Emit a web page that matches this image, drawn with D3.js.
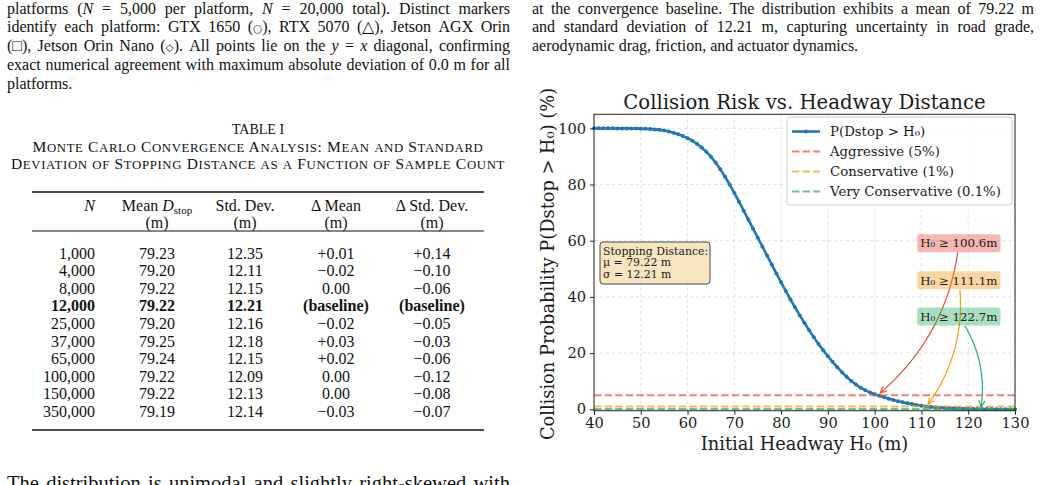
<!DOCTYPE html>
<html>
<head>
<meta charset="utf-8">
<title>Collision Risk vs. Headway Distance</title>
<script src="https://cdn.jsdelivr.net/npm/d3@7"></script>
<style>
  body { margin: 0; background: #fff; }
  svg { display: block; }
  .serif { font-family: 'Liberation Serif', 'Times New Roman', serif; fill: #111; }
  .fig { font-family: 'DejaVu Serif', serif; fill: #1a1a1a; }
</style>
</head>
<body>
<svg id="page" width="1041" height="485"></svg>
<script>
// ---- chart data ----
var headway = [40,41,42,43,44,45,46,47,48,49,50,51,52,53,54,55,56,57,58,59,
  60,61,62,63,64,65,66,67,68,69,70,71,72,73,74,75,76,77,78,79,
  80,81,82,83,84,85,86,87,88,89,90,91,92,93,94,95,96,97,98,99,
  100,101,102,103,104,105,106,107,108,109,110,111,112,113,114,115,116,117,118,119,
  120,121,122,123,124,125,126,127,128,129,130];
var riskPct = [100,100,100,100,100,99.99,99.985,99.975,99.96,99.935,
  99.9,99.84,99.75,99.63,99.46,99.24,98.9,98.45,97.9,97.25,
  96.5,95.6,94.5,93.2,91.7,89.9,87.8,85.4,82.8,80.0,
  77.0,73.9,70.7,67.5,64.3,61.1,57.9,54.7,51.5,48.3,
  45.2,42.1,39.1,36.2,33.4,30.7,28.1,25.6,23.2,21.0,
  18.9,16.9,15.0,13.2,11.6,10.1,8.8,7.7,6.75,6.0,
  5.35,4.78,4.25,3.75,3.3,2.88,2.5,2.15,1.85,1.55,
  1.28,1.03,0.85,0.71,0.59,0.49,0.41,0.34,0.28,0.23,
  0.19,0.155,0.125,0.098,0.078,0.062,0.05,0.04,0.032,0.026,0.021];
var thresholdPct = [5, 1, 0.1];
var thresholdName = ['Aggressive (5%)', 'Conservative (1%)', 'Very Conservative (0.1%)'];
var thresholdH = [100.6, 111.1, 122.7];
var xTicks = [40,50,60,70,80,90,100,110,120,130];
var yTicks = [0,20,40,60,80,100];
var meanStop = 79.22, sdStop = 12.21;

// ---- table data ----
var sampleN = ['1,000','4,000','8,000','12,000','25,000','37,000','65,000','100,000','150,000','350,000'];
var meanD = ['79.23','79.20','79.22','79.22','79.20','79.25','79.24','79.22','79.22','79.19'];
var stdD = ['12.35','12.11','12.15','12.21','12.16','12.18','12.15','12.09','12.13','12.14'];
var dMean = ['+0.01','\u22120.02','0.00','(baseline)','\u22120.02','+0.03','+0.02','0.00','0.00','\u22120.03'];
var dStd = ['+0.14','\u22120.10','\u22120.06','(baseline)','\u22120.05','\u22120.03','\u22120.06','\u22120.12','\u22120.08','\u22120.07'];
var baselineRow = 3;

var thrColor = ['#e74c3c', '#f39c12', '#27ae60'];
var blue = '#1f77b4';

var svg = d3.select('#page');

// ---------- body text helpers ----------
// _x_ = italic, ^x^ = smaller symbol glyph
function rich(t, str) {
  var re = /(_[^_]+_|\^[^^]+\^)/;
  str.split(re).forEach(function(part) {
    if (part === '') return;
    if (part.charAt(0) === '_') t.append('tspan').attr('font-style', 'italic').text(part.slice(1, -1));
    else if (part.charAt(0) === '^') t.append('tspan').attr('font-family', 'DejaVu Sans').attr('font-size', '0.66em').text(part.slice(1, -1));
    else t.append('tspan').text(part);
  });
}

function para(lines, x0, x1, y0, lh, size) {
  lines.forEach(function(ln, i) {
    var last = ln.charAt(0) === '~';
    if (last) ln = ln.slice(1);
    var words = ln.split(' ');
    var nodes = words.map(function(w) {
      var t = svg.append('text').attr('class', 'serif').attr('font-size', size).attr('y', y0 + i * lh);
      rich(t, w);
      return t;
    });
    var widths = nodes.map(function(t) { return t.node().getComputedTextLength(); });
    var gap = last ? size * 0.25 : (x1 - x0 - d3.sum(widths)) / (words.length - 1);
    var x = x0;
    nodes.forEach(function(t, j) { t.attr('x', x); x += widths[j] + gap; });
  });
}

para([
  'platforms (_N_ = 5,000 per platform, _N_ = 20,000 total). Distinct markers',
  'identify each platform: GTX 1650 (^\u25cb^), RTX 5070 (\u25b3), Jetson AGX Orin',
  '(\u25a1), Jetson Orin Nano (^\u25c7^). All points lie on the _y_ = _x_ diagonal, confirming',
  'exact numerical agreement with maximum absolute deviation of 0.0 m for all',
  '~platforms.'
], 7, 510, 13.5, 18.8, 16);

para([
  'at the convergence baseline. The distribution exhibits a mean of 79.22 m',
  'and standard deviation of 12.21 m, capturing uncertainty in road grade,',
  '~aerodynamic drag, friction, and actuator dynamics.'
], 532, 1034, 13.5, 18.8, 16);

para(['The distribution is unimodal and slightly right-skewed with'], 7, 510, 490, 18.8, 20.5);

// ---------- table ----------
function smallCaps(t, str, big, small, width) {
  var runs = [];
  Array.from(str).forEach(function(ch) {
    var isSmall = ch !== ch.toUpperCase();
    var prev = runs[runs.length - 1];
    if (prev && prev.small === isSmall) prev.s += ch;
    else runs.push({ s: ch, small: isSmall });
  });
  runs.forEach(function(r) {
    t.append('tspan').attr('font-size', r.small ? small : big).text(r.s.toUpperCase());
  });
  var w = t.node().getComputedTextLength();
  t.attr('letter-spacing', (width - w) / str.length);
}

svg.append('text').attr('class', 'serif').attr('x', 258).attr('y', 134)
  .attr('text-anchor', 'middle').attr('font-size', 14).text('TABLE I');
smallCaps(svg.append('text').attr('class', 'serif').attr('x', 258).attr('y', 152).attr('text-anchor', 'middle'),
  'Monte Carlo Convergence Analysis: Mean and Standard', 15.5, 12.8, 451);
smallCaps(svg.append('text').attr('class', 'serif').attr('x', 258).attr('y', 169).attr('text-anchor', 'middle'),
  'Deviation of Stopping Distance as a Function of Sample Count', 15.5, 12.8, 494);

var tx0 = 32, tx1 = 484;
var colC = [157, 245, 336, 432];
var nRight = 95;
var tSize = 16;
svg.append('line').attr('x1', tx0).attr('x2', tx1).attr('y1', 192).attr('y2', 192).attr('stroke', '#111').attr('stroke-width', 1.6);
svg.append('line').attr('x1', tx0).attr('x2', tx1).attr('y1', 231).attr('y2', 231).attr('stroke', '#111').attr('stroke-width', 1);
svg.append('line').attr('x1', tx0).attr('x2', tx1).attr('y1', 430).attr('y2', 430).attr('stroke', '#111').attr('stroke-width', 1.6);

var hdr = svg.append('g').attr('class', 'serif').attr('font-size', tSize);
hdr.append('text').attr('x', nRight).attr('y', 211).attr('text-anchor', 'end').attr('font-style', 'italic').text('N');
var mh = hdr.append('text').attr('x', colC[0]).attr('y', 211).attr('text-anchor', 'middle');
mh.append('tspan').text('Mean ');
mh.append('tspan').attr('font-style', 'italic').text('D');
mh.append('tspan').attr('font-size', 11).attr('dy', 3).text('stop');
hdr.append('text').attr('x', colC[1]).attr('y', 211).attr('text-anchor', 'middle').text('Std. Dev.');
hdr.append('text').attr('x', colC[2]).attr('y', 211).attr('text-anchor', 'middle').text('\u0394 Mean');
hdr.append('text').attr('x', colC[3]).attr('y', 211).attr('text-anchor', 'middle').text('\u0394 Std. Dev.');
colC.forEach(function(c) {
  hdr.append('text').attr('x', c).attr('y', 227.5).attr('text-anchor', 'middle').text('(m)');
});

var rowY = d3.scaleLinear().domain([0, 9]).range([258.6, 417]);
var body = svg.append('g').attr('class', 'serif').attr('font-size', tSize);
sampleN.forEach(function(n, i) {
  var row = body.append('g').attr('font-weight', i === baselineRow ? 'bold' : null);
  var yy = rowY(i);
  row.append('text').attr('x', nRight).attr('y', yy).attr('text-anchor', 'end').text(n);
  [meanD[i], stdD[i], dMean[i], dStd[i]].forEach(function(v, k) {
    row.append('text').attr('x', colC[k]).attr('y', yy).attr('text-anchor', 'middle').text(v);
  });
});

// ---------- chart ----------
var x = d3.scaleLinear().domain([40, 130]).range([594, 1015]);
var y = d3.scaleLinear().domain([-0.5, 105]).range([410.7, 114.3]);
var chart = svg.append('g').attr('class', 'fig');

// grid
chart.append('g').selectAll('line').data(xTicks).enter().append('line')
  .attr('x1', function(d) { return x(d); }).attr('x2', function(d) { return x(d); })
  .attr('y1', y.range()[0]).attr('y2', y.range()[1])
  .attr('stroke', '#b0b0b0').attr('stroke-opacity', 0.45).attr('stroke-dasharray', '3.5,2.5').attr('stroke-width', 0.8);
chart.append('g').selectAll('line').data(yTicks).enter().append('line')
  .attr('y1', function(d) { return y(d); }).attr('y2', function(d) { return y(d); })
  .attr('x1', x.range()[0]).attr('x2', x.range()[1])
  .attr('stroke', '#b0b0b0').attr('stroke-opacity', 0.45).attr('stroke-dasharray', '3.5,2.5').attr('stroke-width', 0.8);

// curve
var pts = headway.map(function(h, i) { return [h, riskPct[i]]; });
chart.append('path').datum(pts)
  .attr('d', d3.line().x(function(d) { return x(d[0]); }).y(function(d) { return y(d[1]); }))
  .attr('fill', 'none').attr('stroke', blue).attr('stroke-width', 2.6).attr('stroke-linejoin', 'round');
chart.append('g').selectAll('circle').data(pts).enter().append('circle')
  .attr('cx', function(d) { return x(d[0]); }).attr('cy', function(d) { return y(d[1]); })
  .attr('r', 2).attr('fill', blue);

// threshold lines
thresholdPct.forEach(function(p, i) {
  chart.append('line').attr('x1', x(40)).attr('x2', x(130)).attr('y1', y(p)).attr('y2', y(p))
    .attr('stroke', thrColor[i]).attr('stroke-opacity', 0.7).attr('stroke-width', 2)
    .attr('stroke-dasharray', '7.4,3.2');
});

// frame
chart.append('rect').attr('x', x(40)).attr('y', y(105)).attr('width', x(130) - x(40)).attr('height', y(-0.5) - y(105))
  .attr('fill', 'none').attr('stroke', '#222').attr('stroke-width', 1);

// axes
var ax = chart.append('g').attr('transform', 'translate(0,' + y(-0.5) + ')')
  .call(d3.axisBottom(x).tickValues(xTicks).tickSize(4).tickPadding(3));
var ay = chart.append('g').attr('transform', 'translate(' + x(40) + ',0)')
  .call(d3.axisLeft(y).tickValues(yTicks).tickSize(4).tickPadding(4));
[ax, ay].forEach(function(a) {
  a.select('.domain').remove();
  a.selectAll('text').attr('font-family', 'DejaVu Serif').attr('font-size', 14.6).attr('fill', '#1a1a1a');
  a.selectAll('line').attr('stroke', '#222');
});

chart.append('text').attr('x', 804.5).attr('y', 109).attr('text-anchor', 'middle').attr('font-size', 19.7)
  .text('Collision Risk vs. Headway Distance');
chart.append('text').attr('x', 804.5).attr('y', 450).attr('text-anchor', 'middle').attr('font-size', 17.8)
  .text('Initial Headway H\u2080 (m)');
chart.append('text').attr('transform', 'translate(554,264) rotate(-90)').attr('text-anchor', 'middle').attr('font-size', 17.8)
  .text('Collision Probability P(Dstop > H\u2080) (%)');

// legend
var lg = chart.append('g');
lg.append('rect').attr('x', 787).attr('y', 117).attr('width', 225).attr('height', 88).attr('rx', 3)
  .attr('fill', '#fff').attr('fill-opacity', 0.8).attr('stroke', '#cccccc');
var legItems = [{ name: 'P(Dstop > H\u2080)', color: blue }].concat(thresholdName.map(function(n, i) {
  return { name: n, color: thrColor[i], dash: true };
}));
legItems.forEach(function(it, i) {
  var ly = 131.5 + i * 20;
  var ln = lg.append('line').attr('x1', 792).attr('x2', 820).attr('y1', ly).attr('y2', ly).attr('stroke', it.color);
  if (it.dash) ln.attr('stroke-width', 2).attr('stroke-opacity', 0.7).attr('stroke-dasharray', '7.4,3.2');
  else {
    ln.attr('stroke-width', 2.6);
    lg.append('circle').attr('cx', 806).attr('cy', ly).attr('r', 2).attr('fill', it.color);
  }
  lg.append('text').attr('x', 830).attr('y', ly + 4.5).attr('font-size', 13.3).text(it.name);
});

// stats box
var sb = chart.append('g');
sb.append('rect').attr('x', 600).attr('y', 242).attr('width', 110).attr('height', 42).attr('rx', 3)
  .attr('fill', '#f5deb3').attr('fill-opacity', 0.8).attr('stroke', '#333').attr('stroke-width', 0.9);
['Stopping Distance:', '\u03bc = ' + meanStop.toFixed(2) + ' m', '\u03c3 = ' + sdStop.toFixed(2) + ' m'].forEach(function(s, i) {
  sb.append('text').attr('x', 603).attr('y', 254.5 + i * 11.8).attr('font-size', 10.9).text(s);
});

// threshold annotations with curved arrows
var labelAt = [[118, 59.1], [118, 45.9], [118, 33.0]];
var arrowLayer = chart.append('g');
var labelLayer = chart.append('g');
thresholdH.forEach(function(h, i) {
  var cx = x(labelAt[i][0]), cy = y(labelAt[i][1]);
  var g = labelLayer.append('g');
  var rect = g.append('rect');
  var t = g.append('text').attr('x', cx).attr('y', cy + 4.2).attr('text-anchor', 'middle').attr('font-size', 11.8)
    .text('H\u2080 \u2265 ' + h.toFixed(1) + 'm');
  var bw = t.node().getComputedTextLength() + 6, bh = 18;
  var box = { x0: cx - bw / 2, x1: cx + bw / 2, y0: cy - bh / 2, y1: cy + bh / 2 };
  rect.attr('x', box.x0).attr('y', box.y0).attr('width', bw).attr('height', bh).attr('rx', 3)
    .attr('fill', thrColor[i]).attr('fill-opacity', 0.4);

  var tx = x(h), ty = y(thresholdPct[i]);
  var dx = tx - cx, dy = ty - cy, f = 0.2;
  var kx = (cx + tx) / 2 + f * dy, ky = (cy + ty) / 2 - f * dx;
  var bez = function(s) {
    return [(1 - s) * (1 - s) * cx + 2 * (1 - s) * s * kx + s * s * tx,
            (1 - s) * (1 - s) * cy + 2 * (1 - s) * s * ky + s * s * ty];
  };
  var seg = [];
  for (var s = 0; s <= 0.985; s += 0.005) {
    var p = bez(s);
    if (p[0] >= box.x0 && p[0] <= box.x1 && p[1] >= box.y0 && p[1] <= box.y1) continue;
    seg.push(p);
  }
  arrowLayer.append('path').attr('d', d3.line()(seg)).attr('fill', 'none')
    .attr('stroke', thrColor[i]).attr('stroke-width', 1.2);
  var e = seg[seg.length - 1], q = seg[seg.length - 4];
  var ang = Math.atan2(e[1] - q[1], e[0] - q[0]);
  var hl = 7, ha = 0.45;
  arrowLayer.append('path')
    .attr('d', 'M' + (e[0] - hl * Math.cos(ang - ha)) + ',' + (e[1] - hl * Math.sin(ang - ha)) +
      'L' + e[0] + ',' + e[1] + 'L' + (e[0] - hl * Math.cos(ang + ha)) + ',' + (e[1] - hl * Math.sin(ang + ha)))
    .attr('fill', 'none').attr('stroke', thrColor[i]).attr('stroke-width', 1.2);
});
</script>
</body>
</html>
